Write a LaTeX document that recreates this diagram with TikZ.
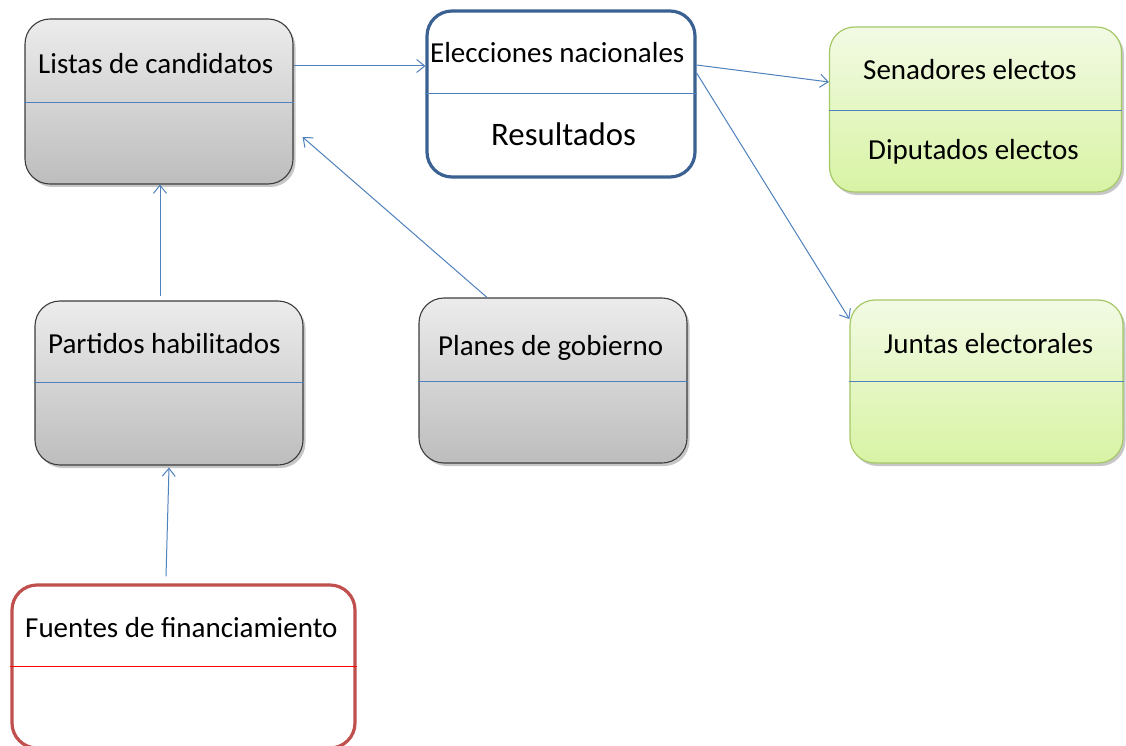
\documentclass[tikz,border=0pt]{standalone}
\usepackage{fontspec}
\setmainfont{Carlito}
\usetikzlibrary{arrows.meta,shadows,calc}
\definecolor{lineblue}{HTML}{4F81BD}
\definecolor{grayborder}{HTML}{3C3C3C}
\definecolor{graytop}{HTML}{ECECEC}
\definecolor{graybot}{HTML}{BDBDBD}
\definecolor{greentop}{HTML}{F2FAE4}
\definecolor{greenbot}{HTML}{D8F3A4}
\definecolor{greenborder}{HTML}{A5C867}
\definecolor{boxblue}{HTML}{3A6191}
\definecolor{boxred}{HTML}{C0504D}
\tikzset{
  box/.style={rectangle, rounded corners=25pt, inner sep=0pt},
  graybox/.style={box, draw=grayborder, line width=1.1pt, top color=graytop, bottom color=graybot,
    drop shadow={shadow xshift=2.5pt, shadow yshift=-3pt, opacity=0.22, fill=black}},
  greenbox/.style={box, draw=greenborder, line width=1.2pt, top color=greentop, bottom color=greenbot,
    drop shadow={shadow xshift=2.5pt, shadow yshift=-3pt, opacity=0.22, fill=black}},
  bluebox/.style={box, draw=boxblue, line width=3.2pt, fill=white},
  redbox/.style={box, draw=boxred, line width=3.2pt, fill=white},
  divider/.style={fill=lineblue},
  reddivider/.style={fill=red},
  lbl/.style={anchor=base west, inner sep=0pt, font=\fontsize{29}{34}\selectfont},
  biglbl/.style={anchor=base west, inner sep=0pt, font=\fontsize{32.8}{38}\selectfont},
  arr/.style={draw=lineblue, line width=1pt, -{Straight Barb[length=8pt,width=13pt,line width=1pt]}}
}
\begin{document}
\begin{tikzpicture}[x=1pt,y=-1pt]
\useasboundingbox[fill=white] (0,0) rectangle (1126,746);
% boxes
\node[graybox, minimum width=268pt, minimum height=165pt] (listas) at (159,101.5) {};
\node[bluebox, minimum width=268pt, minimum height=166pt] (elec) at (561,94) {};
\node[greenbox, minimum width=292pt, minimum height=165pt] (sen) at (975.5,109.5) {};
\node[graybox, minimum width=268pt, minimum height=164pt] (part) at (169,383) {};
\node[graybox, minimum width=268pt, minimum height=165pt] (plan) at (553,380.5) {};
\node[greenbox, minimum width=273pt, minimum height=163pt] (junt) at (986.5,381.5) {};
\node[redbox, minimum width=343pt, minimum height=163pt] (fuen) at (183.5,666.5) {};
% dividers
\fill[divider] (listas.west |- 0,102) rectangle (listas.east |- 0,103.2);
\fill[divider] (elec.west |- 0,93) rectangle (elec.east |- 0,94.2);
\fill[divider] (sen.west |- 0,110) rectangle (sen.east |- 0,111.2);
\fill[divider] (part.west |- 0,382) rectangle (part.east |- 0,383.2);
\fill[divider] (plan.west |- 0,381) rectangle (plan.east |- 0,382.2);
\fill[divider] (junt.west |- 0,381) rectangle (junt.east |- 0,382.2);
\fill[reddivider] (fuen.west |- 0,666) rectangle (fuen.east |- 0,667.2);
% labels
\node[lbl] (tlistas) at (38,73.5) {Listas de candidatos};
\node[lbl] (telec) at (430,63) {Elecciones nacionales};
\node[biglbl] (tres) at (491,146) {Resultados};
\node[lbl] (tsen) at (863,80) {Senadores electos};
\node[lbl] (tdip) at (868,160) {Diputados electos};
\node[lbl] (tpart) at (48,353) {Partidos habilitados};
\node[lbl] (tplan) at (438,355) {Planes de gobierno};
\node[lbl] (tjunt) at (884,353) {Juntas electorales};
\node[lbl] (tfuen) at (25,637) {Fuentes de financiamiento};
% connectors
\draw[arr] ([yshift=35.5pt]listas.east) -- ([yshift=28pt]elec.west);
\draw[arr] ([yshift=29pt]elec.east) -- ([yshift=27.5pt]sen.west);
\draw[arr] ([yshift=21pt]elec.east) -- ([yshift=62.5pt]junt.west);
\draw[arr] ([xshift=-66pt]plan.north) -- ([shift={(9pt,-35.5pt)}]listas.east);
\draw[arr] ([shift={(-9pt,4pt)}]part.north) -- ([xshift=1pt]listas.south);
\draw[arr] ([shift={(-17.5pt,7pt)}]fuen.north) -- ([yshift=-2pt]part.south);
\end{tikzpicture}
\end{document}
